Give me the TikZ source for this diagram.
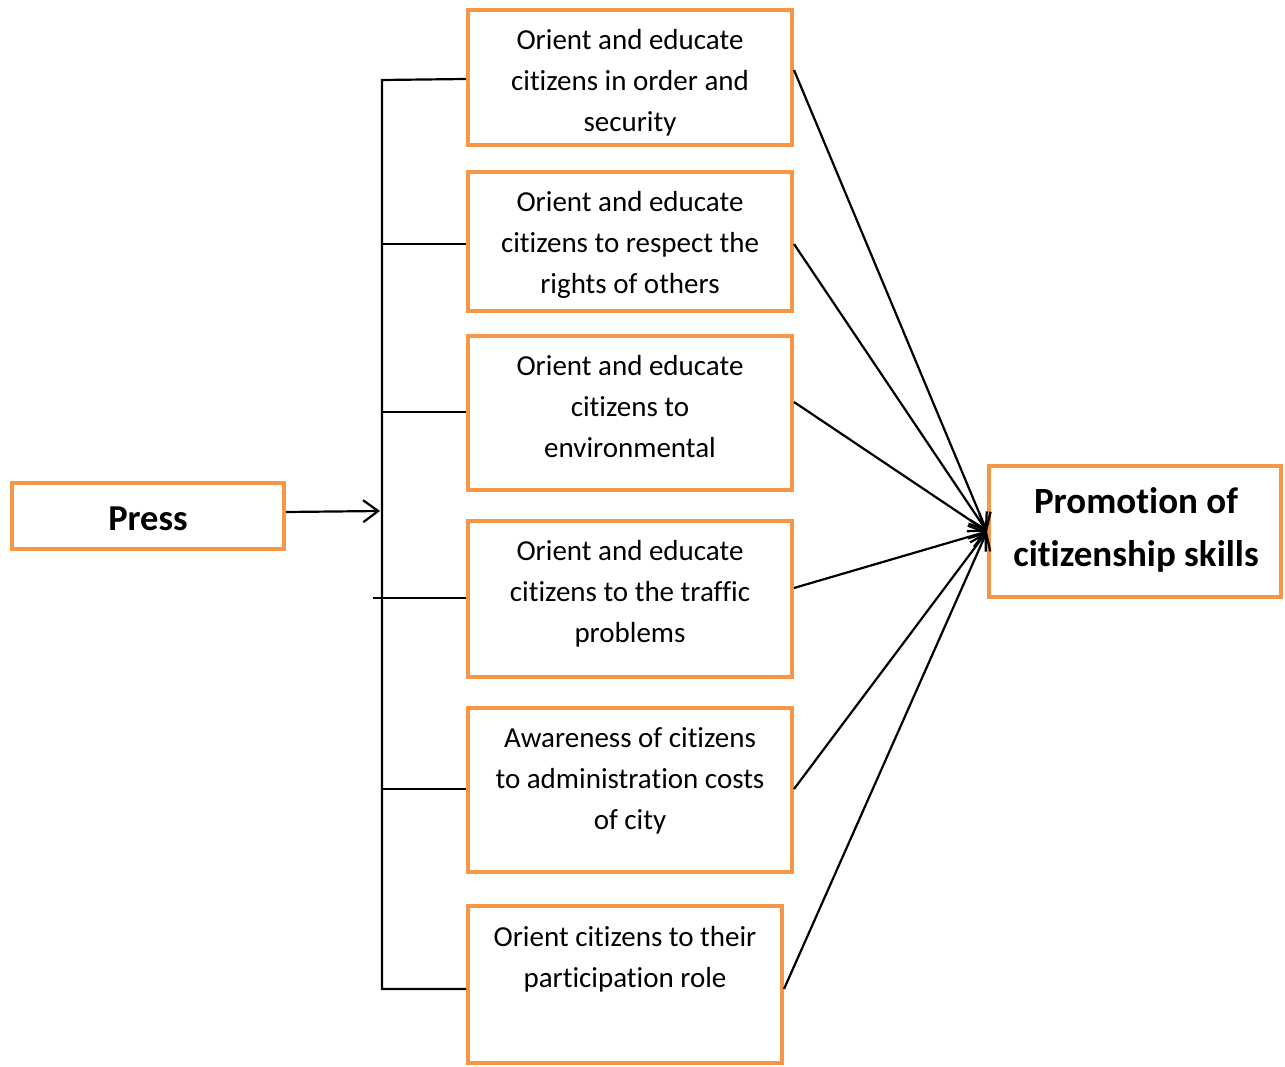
\documentclass[tikz,border=0pt]{standalone}
\usepackage{fontspec}
\setmainfont{Carlito}[Ligatures={NoCommon}]
\usetikzlibrary{arrows.meta,calc}
\definecolor{acc}{HTML}{F79646}
\begin{document}
\begin{tikzpicture}[x=1pt,y=-1pt,
  box/.style={draw=acc, line width=4pt, inner sep=0pt, fill=white},
  txt/.style={align=center, inner sep=0pt, anchor=north, font=\fontsize{29}{41}\selectfont},
  conn/.style={line width=2.2pt},
  arr/.style={line width=2.2pt, -{Straight Barb[length=15pt,width=22pt,line width=2.2pt]}}]
\useasboundingbox (0,0) rectangle (1285,1067);
% boxes
\node[box, minimum width=324pt, minimum height=135pt] (b1) at (630,77.5) {};
\node[box, minimum width=324pt, minimum height=139pt] (b2) at (630,241.5) {};
\node[box, minimum width=324pt, minimum height=154pt] (b3) at (630,413) {};
\node[box, minimum width=324pt, minimum height=156pt] (b4) at (630,599) {};
\node[box, minimum width=324pt, minimum height=164pt] (b5) at (630,790) {};
\node[box, minimum width=314pt, minimum height=157pt] (b6) at (625,984.5) {};
\node[box, minimum width=272pt, minimum height=66pt] (press) at (148,516) {};
\node[box, minimum width=292pt, minimum height=131pt] (promo) at (1135,531.5) {};
% texts
\node[font=\bfseries\fontsize{36.5}{44}\selectfont, inner sep=0pt] (tp) at (148,519) {Press};
\node[align=center, inner sep=0pt, font=\bfseries\fontsize{37}{53}\selectfont] (tq) at (1136,530) {Promotion of\\citizenship skills};
\node[txt] (t1) at (630,29) {Orient and educate\\citizens in order and\\security};
\node[txt] (t2) at (630,191) {Orient and educate\\citizens to respect the\\rights of others};
\node[txt] (t3) at (630,355) {Orient and educate\\citizens to\\environmental};
\node[txt] (t4) at (630,540) {Orient and educate\\citizens to the traffic\\problems};
\node[txt] (t5) at (630,727) {Awareness of citizens\\to administration costs\\of city};
\node[txt] (t6) at (625,926) {Orient citizens to their\\participation role};
% bracket
\coordinate (top) at (382,80);
\coordinate (bot) at (382,989);
\coordinate (k4) at (373,598);
\coordinate (pa) at (380,511);
\draw[conn] (b1.west |- 0,79) -- (top) -- (bot) -- (b6.west |- 0,989);
\draw[conn] (b2.west |- 0,244) -- (top |- 0,244);
\draw[conn] (b3.west |- 0,412) -- (top |- 0,412);
\draw[conn] (b4.west |- 0,598) -- (k4);
\draw[conn] (b5.west |- 0,789) -- (top |- 0,789);
\draw[arr] (press.east |- 0,512) -- (pa);
% arrows to promotion
\draw[arr] (b1.east |- 0,70) -- (promo.west);
\draw[arr] (b2.east |- 0,244) -- (promo.west);
\draw[arr] (b3.east |- 0,402) -- (promo.west);
\draw[arr] (b4.east |- 0,588) -- (promo.west);
\draw[arr] (b5.east |- 0,789) -- (promo.west);
\draw[arr] (b6.east |- 0,989) -- (promo.west);
\end{tikzpicture}
\end{document}
